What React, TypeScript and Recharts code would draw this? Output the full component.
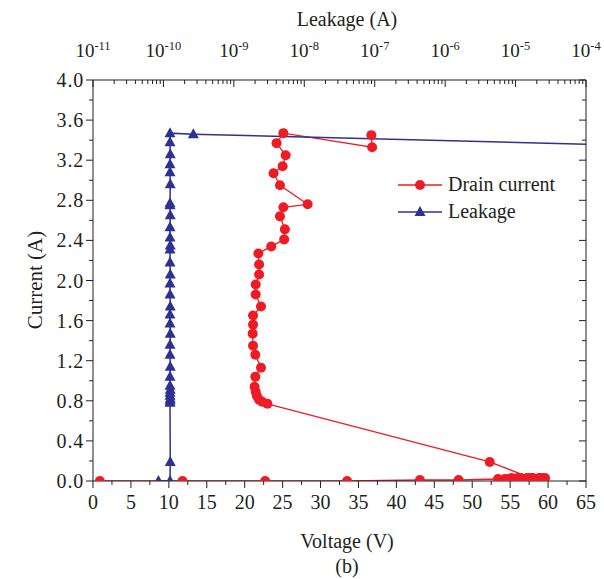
import React from 'react'
import { ComposedChart, Line, XAxis, YAxis } from 'recharts'

// Drain current sweep (bottom axis, V)
const drainVoltage = [
  0.9, 11.8, 22.7, 33.5, 43.1, 48.2, 53.4,
  54.3, 54.8, 55.2, 55.6, 56.0, 56.4, 56.8, 57.2, 57.6, 58.0, 58.4, 58.8, 59.2, 59.6, 57.8,
  52.3, 23.0, 22.3, 21.9, 21.6, 21.45, 21.3, 21.4, 22.15, 21.4, 21.1, 21.05, 21.1, 21.1,
  22.15, 21.45, 21.45, 21.9, 21.9, 21.8, 23.5, 25.2, 25.3, 24.65, 25.1, 28.3, 24.65, 23.8,
  25.0, 25.4, 24.2, 25.1, 36.8, 36.7,
]
const drainCurrent = [
  0, 0, 0, 0, 0.01, 0.01, 0.02,
  0.02, 0.02, 0.03, 0.02, 0.03, 0.03, 0.02, 0.03, 0.03, 0.03, 0.02, 0.03, 0.03, 0.03, 0.03,
  0.19, 0.77, 0.79, 0.81, 0.85, 0.89, 0.94, 1.04, 1.13, 1.26, 1.35, 1.47, 1.56, 1.65,
  1.74, 1.86, 1.96, 2.06, 2.16, 2.27, 2.34, 2.41, 2.51, 2.64, 2.73, 2.76, 2.95, 3.07,
  3.14, 3.25, 3.37, 3.47, 3.33, 3.45,
]

// Leakage (top axis, A)
const leakageAmps = [
  8.5e-11, 1.24e-10, 1.25e-10,
  1.24e-10, 1.24e-10, 1.25e-10, 1.24e-10, 1.24e-10, 1.25e-10, 1.24e-10,
  1.24e-10, 1.25e-10, 1.24e-10, 1.24e-10, 1.25e-10, 1.24e-10, 1.24e-10, 1.25e-10, 1.24e-10,
  1.24e-10, 1.25e-10, 1.24e-10, 1.24e-10, 1.25e-10, 1.24e-10, 1.24e-10, 1.25e-10, 1.24e-10,
  1.24e-10, 1.25e-10, 1.24e-10, 1.24e-10, 1.25e-10, 1.24e-10, 1.24e-10,
  2.66e-10, 1e-3,
]
const leakageCurrent = [
  0, 0, 0.19,
  0.78, 0.80, 0.82, 0.85, 0.88, 0.91, 0.95,
  1.04, 1.14, 1.26, 1.36, 1.47, 1.57, 1.66, 1.74, 1.86,
  1.97, 2.06, 2.18, 2.31, 2.35, 2.43, 2.53, 2.65, 2.75,
  2.77, 2.96, 3.08, 3.16, 3.26, 3.38, 3.47,
  3.46, 3.34,
]

const yMajor = [0, 0.4, 0.8, 1.2, 1.6, 2.0, 2.4, 2.8, 3.2, 3.6, 4.0]
const yMinor = [0.2, 0.6, 1.0, 1.4, 1.8, 2.2, 2.6, 3.0, 3.4, 3.8]
const vMajor = [0, 5, 10, 15, 20, 25, 30, 35, 40, 45, 50, 55, 60, 65]
const vMinor = [2.5, 7.5, 12.5, 17.5, 22.5, 27.5, 32.5, 37.5, 42.5, 47.5, 52.5, 57.5, 62.5]
const decades = [-11, -10, -9, -8, -7, -6, -5, -4]
const minorMult = [2, 3, 4, 5, 6, 7, 8, 9]

const RED = '#ED1C24'
const BLUE = '#2E3192'
const INK = '#231F20'
const FONT = "'Liberation Serif', 'Times New Roman', serif"

const drainData = drainVoltage.map((v, i) => ({ v, i: drainCurrent[i] }))
const leakData = leakageAmps.map((a, i) => ({ a, i: leakageCurrent[i] }))

const yTicks = [...yMajor, ...yMinor].sort((a, b) => a - b)
const vTicks = [...vMajor, ...vMinor].sort((a, b) => a - b)
const logTicks: number[] = []
decades.forEach(d => {
  logTicks.push(Math.pow(10, d))
  if (d < -4) minorMult.forEach(m => logTicks.push(m * Math.pow(10, d)))
})

const isIn = (arr: number[], v: number) => arr.some(t => Math.abs(t - v) < 1e-9)

const LeftTick = ({ x, y, payload }: any) => {
  const major = isIn(yMajor, payload.value)
  return (
    <g>
      <line x1={x - (major ? 7 : 4)} x2={x} y1={y} y2={y} stroke={INK} />
      {major && (
        <text
          x={x - 9}
          y={y}
          dy="0.35em"
          textAnchor="end"
          fontSize={20}
          letterSpacing={0.8}
          fill={INK}
          fontFamily={FONT}
        >
          {payload.value.toFixed(1)}
        </text>
      )}
    </g>
  )
}

const RightTick = ({ x, y, payload }: any) => {
  const major = isIn(yMajor, payload.value)
  return <line x1={x - (major ? 7 : 4)} x2={x} y1={y} y2={y} stroke={INK} />
}

const BottomTick = ({ x, y, payload }: any) => {
  const major = isIn(vMajor, payload.value)
  return (
    <g>
      <line x1={x} x2={x} y1={y} y2={y + (major ? 7 : 4)} stroke={INK} />
      {major && (
        <text x={x} y={y + 28} textAnchor="middle" fontSize={20} fill={INK} fontFamily={FONT}>
          {payload.value}
        </text>
      )}
    </g>
  )
}

const TopTick = ({ x, y, payload }: any) => {
  const lg = Math.log10(payload.value)
  const major = Math.abs(lg - Math.round(lg)) < 1e-6
  return (
    <g>
      <line x1={x} x2={x} y1={y} y2={y + (major ? 7 : 4)} stroke={INK} />
      {major && (
        <text x={x} y={y - 23} textAnchor="middle" fontSize={19} fill={INK} fontFamily={FONT}>
          <tspan>10</tspan>
          <tspan dy={-7} fontSize={12.5}>{Math.round(lg)}</tspan>
        </text>
      )}
    </g>
  )
}

const Triangle = (props: any) => {
  const { cx, cy, fill } = props
  if (cx == null || cy == null) return <g key={props.key} />
  return (
    <polygon
      key={props.key}
      points={`${cx},${cy - 6} ${cx - 5.5},${cy + 4} ${cx + 5.5},${cy + 4}`}
      fill={fill || BLUE}
    />
  )
}

const LegendBox = () => (
  <div
    style={{
      position: 'absolute',
      left: 398,
      top: 171,
      fontFamily: FONT,
      fontSize: 20,
      color: INK,
      lineHeight: '27px',
    }}
  >
    <div style={{ display: 'flex', alignItems: 'center' }}>
      <svg width={44} height={14}>
        <line x1={0} x2={44} y1={7} y2={7} stroke={RED} strokeWidth={1.5} />
        <circle cx={22} cy={7} r={5} fill={RED} />
      </svg>
      <span style={{ marginLeft: 6 }}>Drain current</span>
    </div>
    <div style={{ display: 'flex', alignItems: 'center' }}>
      <svg width={44} height={14}>
        <line x1={0} x2={44} y1={7} y2={7} stroke={BLUE} strokeWidth={1.5} />
        <polygon points="22,1 16.5,11 27.5,11" fill={BLUE} />
      </svg>
      <span style={{ marginLeft: 6 }}>Leakage</span>
    </div>
  </div>
)

const title: React.CSSProperties = {
  position: 'absolute',
  fontFamily: FONT,
  fontSize: 20,
  color: INK,
  whiteSpace: 'nowrap',
  transform: 'translate(-50%, -50%)',
}

export default function App() {
  return (
    <div style={{ position: 'absolute', left: 0, top: 0, width: 604, height: 579, background: '#fff' }}>
      <ComposedChart width={604} height={579} margin={{ top: 0, right: 0, bottom: 0, left: 0 }}>
        <XAxis
          xAxisId="v"
          dataKey="v"
          type="number"
          orientation="bottom"
          domain={[0, 65]}
          ticks={vTicks}
          interval={0}
          height={98}
          tickSize={0}
          tickMargin={0}
          tickLine={false}
          tick={<BottomTick />}
          axisLine={{ stroke: INK }}
          allowDataOverflow
        />
        <XAxis
          xAxisId="leak"
          dataKey="a"
          type="number"
          scale="log"
          orientation="top"
          domain={[1e-11, 1e-4]}
          ticks={logTicks}
          interval={0}
          height={80}
          tickSize={0}
          tickMargin={0}
          tickLine={false}
          tick={<TopTick />}
          axisLine={{ stroke: INK }}
          allowDataOverflow
        />
        <YAxis
          yAxisId="left"
          type="number"
          domain={[0, 4]}
          ticks={yTicks}
          interval={0}
          width={93}
          tickSize={0}
          tickMargin={0}
          tickLine={false}
          tick={<LeftTick />}
          axisLine={{ stroke: INK }}
          allowDataOverflow
        />
        <YAxis
          yAxisId="right"
          orientation="right"
          type="number"
          domain={[0, 4]}
          ticks={yTicks}
          interval={0}
          width={18}
          tickSize={0}
          tickMargin={0}
          tickLine={false}
          tick={<RightTick />}
          axisLine={{ stroke: INK }}
          allowDataOverflow
        />
        <Line
          xAxisId="v"
          yAxisId="left"
          data={drainData}
          dataKey="i"
          name="Drain current"
          type="linear"
          stroke={RED}
          strokeWidth={1.3}
          dot={{ r: 5, fill: RED, stroke: RED, strokeWidth: 0 }}
          activeDot={false}
          isAnimationActive={false}
        />
        <Line
          xAxisId="leak"
          yAxisId="left"
          data={leakData}
          dataKey="i"
          name="Leakage"
          type="linear"
          stroke={BLUE}
          strokeWidth={1.5}
          dot={<Triangle fill={BLUE} />}
          activeDot={false}
          isAnimationActive={false}
        />
      </ComposedChart>
      <LegendBox />
      <div style={{ ...title, left: 347, top: 19 }}>Leakage (A)</div>
      <div style={{ ...title, left: 347, top: 541 }}>Voltage (V)</div>
      <div style={{ ...title, left: 347, top: 566 }}>(b)</div>
      <div
        style={{
          ...title,
          left: 35,
          top: 280,
          fontSize: 21,
          transform: 'translate(-50%, -50%) rotate(-90deg)',
        }}
      >
        Current (A)
      </div>
    </div>
  )
}
